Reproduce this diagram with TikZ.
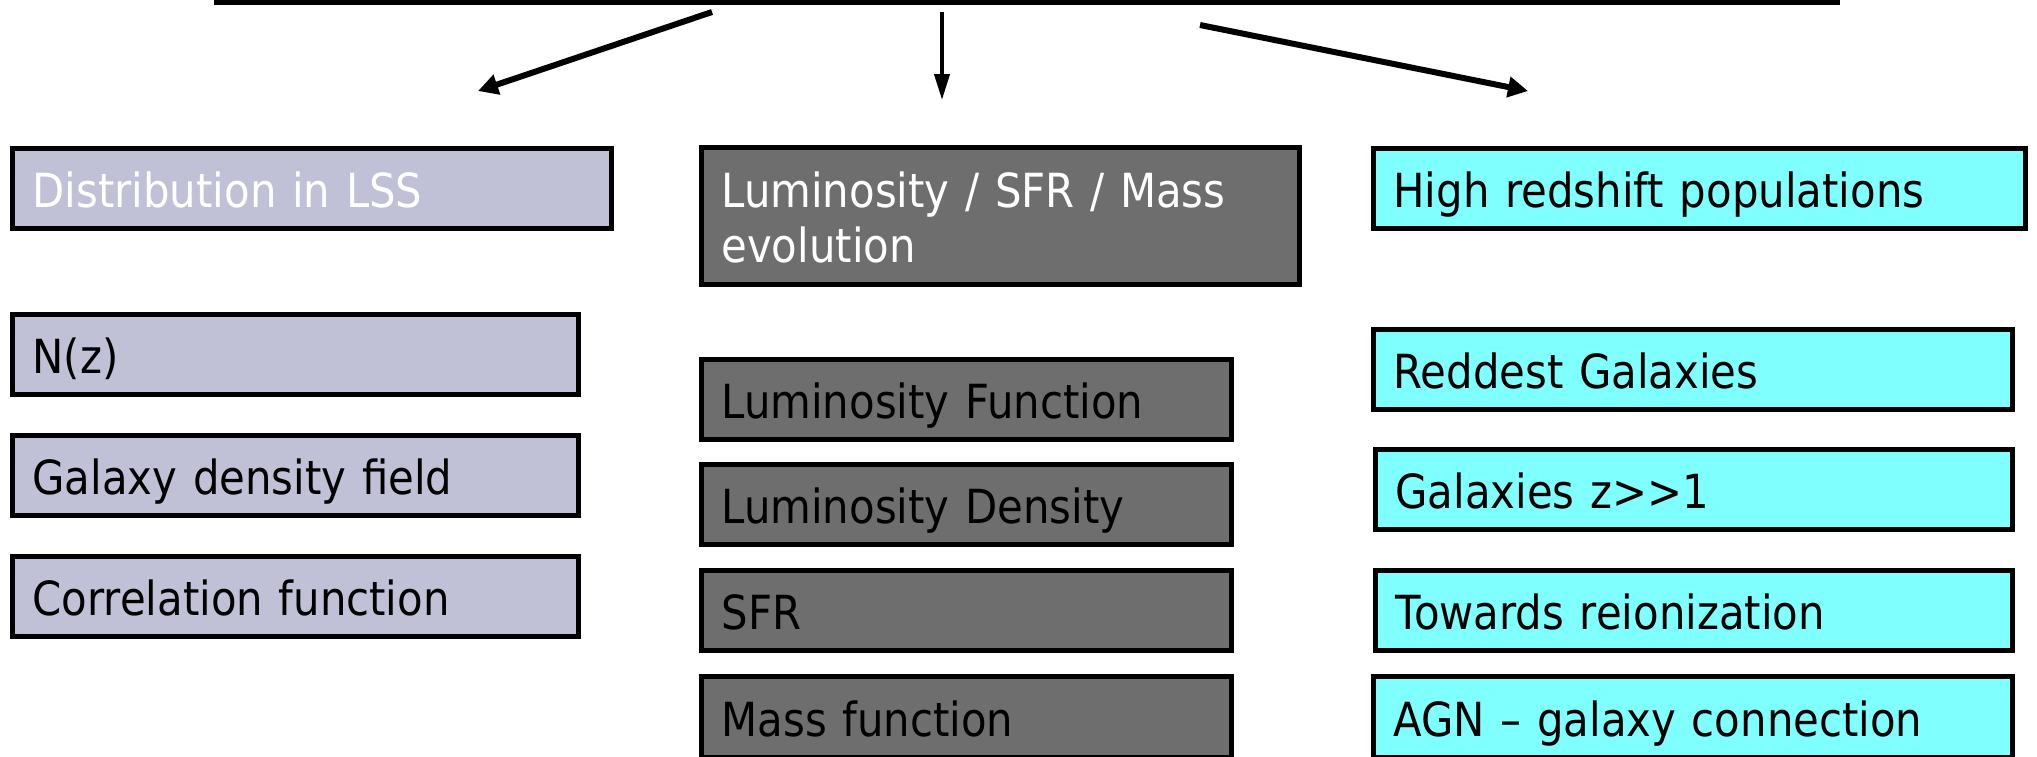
\documentclass[tikz,border=0pt]{standalone}
\usepackage{fontspec}
\setmainfont{DejaVu Sans}[FakeStretch=0.89]
\usetikzlibrary{arrows.meta}
\definecolor{lav}{RGB}{192,192,214}
\definecolor{dgray}{RGB}{110,110,110}
\definecolor{cyanbox}{RGB}{128,255,255}
\tikzset{
  box/.style={draw=black, line width=5pt, inner xsep=20pt, inner ysep=0pt, align=left,
              font=\fontsize{47}{55}\selectfont, anchor=center, text height=40pt, text depth=2pt},
  lavbox/.style={box, fill=lav},
  graybox/.style={box, fill=dgray},
  cyanb/.style={box, fill=cyanbox},
  thickarrow/.style={line width=6pt, -{Triangle[length=20pt,width=20pt]}},
  thinarrow/.style={line width=4pt, -{Triangle[length=26pt,width=15pt]}}
}
\begin{document}
\begin{tikzpicture}[x=1pt,y=-1pt]
\useasboundingbox (0,0) rectangle (2037,756);
% top box (cut by the page edge)
\node[draw=black, line width=5pt, minimum width=1621pt, minimum height=60pt] (top) at (1027,-27.5) {};
% left column
\node[lavbox, text=white, minimum width=599pt, minimum height=80pt, text width=559pt] (dist) at (312,188) {Distribution in LSS};
\node[lavbox, minimum width=566pt, minimum height=80pt, text width=526pt] (nz) at (295.5,354) {N(z)};
\node[lavbox, minimum width=566pt, minimum height=80pt, text width=526pt] (gdf) at (295.5,475.5) {Galaxy density field};
\node[lavbox, minimum width=566pt, minimum height=80pt, text width=526pt] (corr) at (295.5,596.5) {Correlation function};
% middle column
\node[graybox, text=white, text depth=57pt, minimum width=598pt, minimum height=137pt, text width=558pt] (lsm) at (1000.5,216) {Luminosity / SFR / Mass\\evolution};
\node[graybox, minimum width=530pt, minimum height=80pt, text width=490pt] (lf) at (966.5,399.5) {Luminosity Function};
\node[graybox, minimum width=530pt, minimum height=80pt, text width=490pt] (ld) at (966.5,504.5) {Luminosity Density};
\node[graybox, minimum width=530pt, minimum height=80pt, text width=490pt] (sfr) at (966.5,610.5) {SFR};
\node[graybox, minimum width=530pt, minimum height=81pt, text width=490pt] (mf) at (966.5,717) {Mass function};
% right column
\node[cyanb, minimum width=652pt, minimum height=80pt, text width=612pt] (hrp) at (1699.5,188) {High redshift populations};
\node[cyanb, minimum width=639pt, minimum height=80pt, text width=599pt] (rg) at (1693,369) {Reddest Galaxies};
\node[cyanb, minimum width=637pt, minimum height=80pt, text width=597pt] (gz) at (1694,489.5) {Galaxies z>{}>1};
\node[cyanb, minimum width=637pt, minimum height=80pt, text width=597pt] (tr) at (1694,610.5) {Towards reionization};
\node[cyanb, minimum width=639pt, minimum height=81pt, text width=599pt] (agn) at (1693,717) {AGN – galaxy connection};
% arrows
\coordinate (sL) at (712,12);
\coordinate (eL) at (478,91);
\coordinate (sM) at (942,12);
\coordinate (eM) at (942,100);
\coordinate (sR) at (1200,25);
\coordinate (eR) at (1528,91);
\draw[thickarrow] (sL) -- (eL);
\draw[thinarrow] (sM) -- (eM);
\draw[thickarrow] (sR) -- (eR);
\end{tikzpicture}
\end{document}
